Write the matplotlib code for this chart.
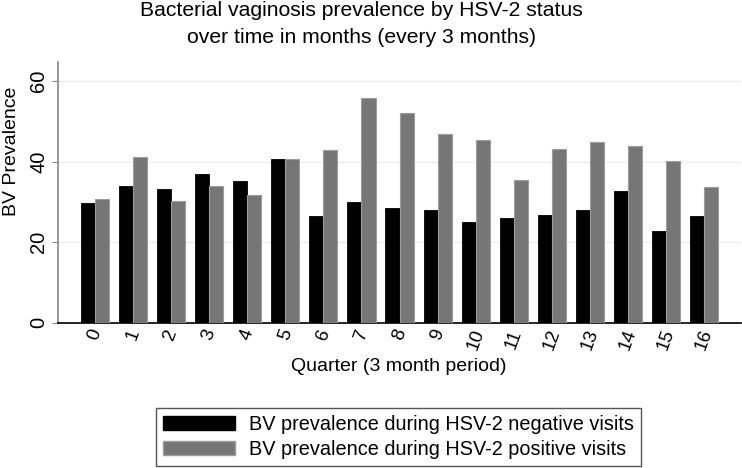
import matplotlib.pyplot as plt
import numpy as np
from matplotlib.patches import Patch

plt.rcParams['font.family'] = ['Liberation Sans', 'DejaVu Sans']

quarters = list(range(17))
hsv_neg = [29.8, 34.0, 33.2, 36.8, 35.1, 40.7, 26.5, 29.9, 28.6, 28.0, 25.1, 26.1, 26.8, 27.9, 32.7, 22.8, 26.5]
hsv_pos = [30.8, 41.1, 30.3, 33.9, 31.6, 40.7, 42.9, 55.8, 52.1, 46.7, 45.4, 35.3, 43.1, 44.8, 43.8, 40.1, 33.6]
labels = ["BV prevalence during HSV-2 negative visits",
          "BV prevalence during HSV-2 positive visits"]

fig = plt.figure(figsize=(7.42, 4.68), dpi=100)
ax = fig.add_axes([0.078, 0.31, 0.92, 0.557])

x = np.arange(len(quarters))
w = 0.37
ax.bar(x - w / 2, hsv_neg, w, color='black', edgecolor='black', linewidth=0.6, zorder=3)
ax.bar(x + w / 2, hsv_pos, w, color='#767676', edgecolor='#9c9c9c', linewidth=0.8, zorder=3)

ax.set_xlim(-0.97, 16.95)
ax.set_ylim(0, 64.6)
ax.set_yticks([0, 20, 40, 60])
ax.set_xticks(x)
ax.set_xticklabels([str(q) for q in quarters], rotation=70, fontsize=13.5,
                   ha='center', va='top')
for t in ax.get_yticklabels():
    t.set_rotation(90)
    t.set_va('center')
ax.tick_params(axis='y', labelsize=14.5, length=4, color='#888888', pad=3)
ax.tick_params(axis='x', length=0, pad=3)
ax.grid(axis='y', color='#eeeeee', linewidth=1, zorder=0)

for s in ['top', 'right']:
    ax.spines[s].set_visible(False)
ax.spines['left'].set_color('#888888')
ax.spines['left'].set_linewidth(1.2)
ax.spines['bottom'].set_color('black')
ax.spines['bottom'].set_linewidth(1.2)

ax.set_ylabel("BV Prevalence", fontsize=14)
ax.yaxis.set_label_coords(-0.056, 0.66)
ax.set_xlabel("Quarter (3 month period)", fontsize=14, labelpad=4)
fig.suptitle("Bacterial vaginosis prevalence by HSV-2 status\nover time in months (every 3 months)",
             fontsize=15.2, y=0.998, x=0.487, linespacing=1.55)

handles = [Patch(facecolor='black', edgecolor='black'),
           Patch(facecolor='#767676', edgecolor='#9c9c9c')]
fig.legend(handles, labels, loc='center', bbox_to_anchor=(0.537, 0.066),
           fontsize=14.3, handlelength=3.6, handleheight=0.75, handletextpad=0.7,
           labelspacing=0.3, borderpad=0.35, frameon=True, fancybox=False,
           edgecolor='#555555', framealpha=1)

fig.savefig("out.png", dpi=100)
